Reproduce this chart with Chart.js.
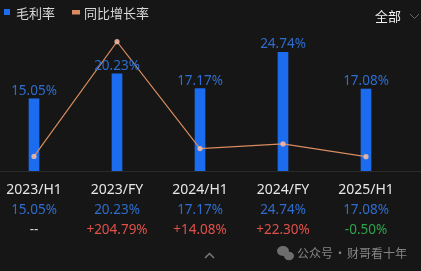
<!DOCTYPE html>
<html>
<head>
<meta charset="utf-8">
<script src="https://cdn.jsdelivr.net/npm/chart.js@4/dist/chart.umd.min.js"></script>
<style>
  html, body { margin: 0; padding: 0; background: #161616; overflow: hidden; }
  #wrap { width: 421px; height: 271px; position: relative; }
</style>
</head>
<body>
<div id="wrap"><canvas id="marginChart" width="421" height="271"></canvas></div>
<script>
// data
const periods = ['2023/H1', '2023/FY', '2024/H1', '2024/FY', '2025/H1'];
const grossMargin = [15.05, 20.23, 17.17, 24.74, 17.08];
const growthRate = [0, 204.79, 14.08, 22.30, -0.50];
const growthLabels = ['--', '+204.79%', '+14.08%', '+22.30%', '-0.50%'];

const FONT = '"Noto Sans", "Noto Sans CJK SC", sans-serif';
const CJK = '"Noto Sans CJK SC", "Noto Sans", sans-serif';
const BAR_BLUE = '#1c6cf0';
const TEXT_BLUE = '#2f6dcc';
const ORANGE = '#d98c5f';

// legend, labels above bars, the table under the chart
const overlay = {
  id: 'overlay',
  afterDatasetsDraw(chart) {
    const ctx = chart.ctx;
    const xs = chart.scales.x;
    const area = chart.chartArea;
    ctx.save();

    // base line
    ctx.strokeStyle = '#2a2a2a';
    ctx.lineWidth = 1;
    ctx.beginPath();
    ctx.moveTo(0, area.bottom + 0.5);
    ctx.lineTo(421, area.bottom + 0.5);
    ctx.stroke();

    // value labels above bars
    const bars = chart.getDatasetMeta(0).data;
    ctx.font = '13.5px ' + FONT;
    ctx.textAlign = 'center';
    ctx.textBaseline = 'alphabetic';
    ctx.fillStyle = TEXT_BLUE;
    bars.forEach((b, i) => {
      ctx.fillText(grossMargin[i].toFixed(2) + '%', b.x, b.y - 4);
    });

    // table rows
    ctx.textBaseline = 'middle';
    periods.forEach((p, i) => {
      const x = xs.getPixelForValue(i);
      ctx.font = '14px ' + FONT;
      ctx.fillStyle = '#e6e6e6';
      ctx.fillText(p, x, 190.5);
      ctx.font = '13.5px ' + FONT;
      ctx.fillStyle = TEXT_BLUE;
      ctx.fillText(grossMargin[i].toFixed(2) + '%', x, 210.5);
      const g = growthLabels[i];
      ctx.fillStyle = g === '--' ? '#d0d0d0' : (g.startsWith('-') ? '#2ea34c' : '#e0514a');
      ctx.fillText(g, x, 230.5);
    });

    // legend
    ctx.fillStyle = BAR_BLUE;
    ctx.fillRect(4, 9, 6, 6);
    ctx.fillStyle = ORANGE;
    ctx.fillRect(72, 10, 8, 4.5);
    ctx.font = '13px ' + CJK;
    ctx.textAlign = 'left';
    ctx.fillStyle = '#d8d8d8';
    ctx.fillText('毛利率', 16, 13);
    ctx.fillText('同比增长率', 84, 13);

    // 全部 selector
    ctx.fillStyle = '#f0f0f0';
    ctx.fillText('全部', 375, 16);
    ctx.strokeStyle = '#666';
    ctx.lineWidth = 1;
    ctx.beginPath();
    ctx.moveTo(410, 14);
    ctx.lineTo(414.5, 18.5);
    ctx.lineTo(419, 14);
    ctx.stroke();

    // collapse arrow
    ctx.strokeStyle = '#7a7a7a';
    ctx.lineWidth = 1.5;
    ctx.beginPath();
    ctx.moveTo(205, 258);
    ctx.lineTo(209.5, 253.5);
    ctx.lineTo(214, 258);
    ctx.stroke();

    // watermark
    ctx.fillStyle = '#6e6e6e';
    ctx.beginPath();
    ctx.ellipse(283, 251, 6, 5, 0, 0, Math.PI * 2);
    ctx.fill();
    ctx.beginPath();
    ctx.ellipse(289, 256, 5, 4.2, 0, 0, Math.PI * 2);
    ctx.fill();
    ctx.fillStyle = '#858585';
    ctx.font = '12px ' + CJK;
    ctx.fillText('公众号', 297, 253);
    ctx.textAlign = 'center';
    ctx.fillText('·', 340, 253);
    ctx.textAlign = 'left';
    ctx.fillText('财哥看十年', 347, 253);

    ctx.restore();
  }
};

new Chart(document.getElementById('marginChart'), {
  type: 'bar',
  data: {
    labels: periods,
    datasets: [
      {
        label: '毛利率',
        data: grossMargin,
        backgroundColor: BAR_BLUE,
        barThickness: 10,
        yAxisID: 'y',
        clip: false,
        order: 2
      },
      {
        type: 'line',
        label: '同比增长率',
        data: growthRate,
        borderColor: ORANGE,
        borderWidth: 1.2,
        pointRadius: 2.6,
        pointBackgroundColor: 'rgba(245,190,165,0.85)',
        pointBorderWidth: 0,
        tension: 0,
        yAxisID: 'y1',
        clip: false,
        order: 1
      }
    ]
  },
  options: {
    responsive: false,
    animation: false,
    devicePixelRatio: 1,
    layout: { padding: { left: 34, right: 55, top: 27, bottom: 100 } },
    plugins: {
      legend: { display: false },
      tooltip: { enabled: false }
    },
    scales: {
      x: { display: false, offset: false },
      y: { display: false, min: 0, max: 30 },
      y1: { display: false, min: -26, max: 231 }
    }
  },
  plugins: [overlay]
});
</script>
</body>
</html>
